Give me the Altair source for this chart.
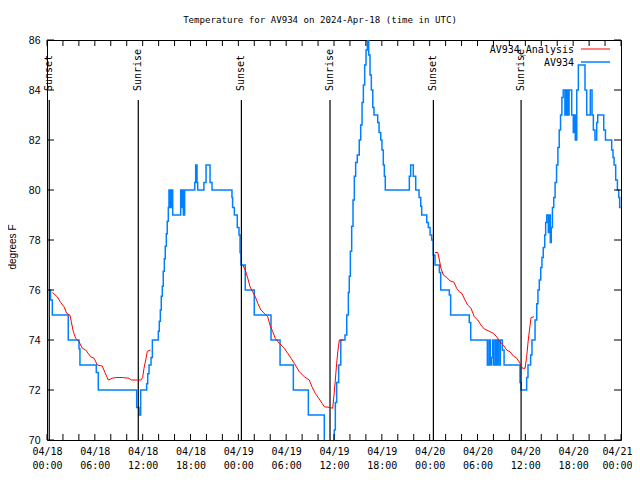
import altair as alt
import pandas as pd

# ---------------- data (UTC, 2024) ----------------
blue_time = [
    "04-18 00:17", "04-18 00:26", "04-18 00:40", "04-18 02:40", "04-18 04:01", "04-18 04:08",
    "04-18 06:11", "04-18 06:26", "04-18 11:15", "04-18 11:32", "04-18 11:45", "04-18 12:30",
    "04-18 12:38", "04-18 12:48", "04-18 13:03", "04-18 13:13", "04-18 13:58", "04-18 14:05",
    "04-18 14:13", "04-18 14:20", "04-18 14:28", "04-18 14:35", "04-18 14:43", "04-18 14:50",
    "04-18 14:58", "04-18 15:05", "04-18 15:13", "04-18 15:18", "04-18 15:26", "04-18 15:31",
    "04-18 15:36", "04-18 15:41", "04-18 15:46", "04-18 16:46", "04-18 16:54", "04-18 16:58",
    "04-18 17:06", "04-18 17:16", "04-18 18:32", "04-18 18:39", "04-18 18:49", "04-18 18:54",
    "04-18 19:41", "04-18 19:57", "04-18 20:27", "04-18 20:42", "04-18 23:12", "04-18 23:17",
    "04-18 23:30", "04-18 23:52", "04-19 00:05", "04-19 00:13", "04-19 00:20", "04-19 00:52",
    "04-19 02:00", "04-19 04:06", "04-19 05:14", "04-19 06:54", "04-19 08:47", "04-19 10:47",
    "04-19 12:02", "04-19 12:10", "04-19 12:20", "04-19 12:35", "04-19 12:51", "04-19 13:23",
    "04-19 13:36", "04-19 13:48", "04-19 13:55", "04-19 14:03", "04-19 14:13", "04-19 14:23",
    "04-19 14:33", "04-19 14:43", "04-19 14:55", "04-19 15:10", "04-19 15:21", "04-19 15:31",
    "04-19 15:41", "04-19 15:51", "04-19 16:01", "04-19 16:11", "04-19 16:21", "04-19 16:31",
    "04-19 16:41", "04-19 16:52", "04-19 17:01", "04-19 17:29", "04-19 17:39", "04-19 17:52",
    "04-19 18:01", "04-19 18:11", "04-19 18:19", "04-19 18:26", "04-19 21:27", "04-19 21:37",
    "04-19 21:57", "04-19 22:15", "04-19 22:40", "04-19 22:53", "04-19 23:00", "04-19 23:38",
    "04-19 23:50", "04-20 00:03", "04-20 00:15", "04-20 00:27", "04-20 00:40", "04-20 01:13",
    "04-20 01:23", "04-20 02:28", "04-20 02:38", "04-20 04:58", "04-20 05:09", "04-20 07:14",
    "04-20 07:26", "04-20 07:37", "04-20 07:47", "04-20 07:55", "04-20 08:02", "04-20 08:14",
    "04-20 08:22", "04-20 08:33", "04-20 08:40", "04-20 08:52", "04-20 09:07", "04-20 09:20",
    "04-20 11:20", "04-20 11:28", "04-20 12:10", "04-20 12:20", "04-20 12:40", "04-20 12:50",
    "04-20 13:13", "04-20 13:26", "04-20 13:35", "04-20 13:45", "04-20 13:56", "04-20 14:05",
    "04-20 14:15", "04-20 14:26", "04-20 14:33", "04-20 14:41", "04-20 14:53", "04-20 15:01",
    "04-20 15:08", "04-20 15:15", "04-20 15:24", "04-20 15:34", "04-20 15:44", "04-20 15:55",
    "04-20 16:05", "04-20 16:15", "04-20 16:25", "04-20 16:35", "04-20 16:45", "04-20 16:58",
    "04-20 17:08", "04-20 17:19", "04-20 17:29", "04-20 17:49", "04-20 18:01", "04-20 18:09",
    "04-20 18:16", "04-20 18:27", "04-20 18:39", "04-20 19:29", "04-20 19:42", "04-20 20:09",
    "04-20 20:22", "04-20 20:32", "04-20 20:44", "04-20 20:57", "04-20 21:05", "04-20 21:50",
    "04-20 22:03", "04-20 22:50", "04-20 23:00", "04-20 23:08", "04-20 23:20", "04-20 23:33",
    "04-20 23:43", "04-20 23:50", "04-20 23:58",
]
blue_temp = [
    76.0, 75.6, 75.0, 74.0, 73.65, 73.0,
    72.7, 72.0, 71.3, 71.0, 72.0, 72.25,
    72.65, 73.0, 73.3, 74.0, 74.35, 74.75,
    75.2, 75.75, 76.15, 76.75, 77.25, 77.75,
    78.25, 78.75, 79.3, 80.0, 79.3, 80.0,
    79.3, 80.0, 79.0, 80.0, 79.3, 80.0,
    79.0, 80.0, 80.3, 81.0, 80.3, 80.0,
    80.3, 81.0, 80.3, 80.0, 79.7, 79.3,
    79.0, 78.5, 78.2, 77.5, 77.0, 76.0,
    75.0, 74.0, 73.0, 72.0, 71.0, 69.5,
    70.4, 71.5, 72.3, 73.0, 74.0, 74.2,
    75.0, 75.9, 76.55, 77.55, 78.55, 79.6,
    80.55, 81.1, 81.4, 82.0, 82.6, 83.5,
    84.2, 85.0, 85.6, 86.3, 85.4, 84.6,
    84.0, 83.3, 83.0, 82.7, 82.3, 82.0,
    81.6, 81.0, 80.55, 80.0, 80.55, 81.0,
    80.55, 80.0, 79.7, 79.35, 79.0, 78.7,
    78.5, 78.2, 78.0, 77.4, 77.0, 76.7,
    76.0, 75.8, 75.0, 74.7, 74.0, 73.0,
    74.0, 73.0, 73.3, 74.0, 73.0, 74.0,
    73.0, 74.0, 73.0, 74.0, 73.6, 73.0,
    72.3, 72.0, 72.5, 73.0, 73.4, 74.0,
    74.8, 75.45, 76.0, 76.4, 76.9, 77.3,
    77.7, 78.2, 78.7, 79.0, 78.3, 79.0,
    77.9, 78.5, 79.3, 79.7, 80.3, 81.0,
    81.7, 82.4, 83.0, 83.7, 84.0, 83.0,
    84.0, 83.0, 84.0, 83.0, 82.3, 83.0,
    82.0, 84.0, 85.0, 84.0, 83.0, 84.0,
    83.0, 82.4, 82.0, 82.7, 83.0, 82.4,
    82.0, 81.6, 81.3, 81.0, 80.4, 80.0,
    79.7, 79.3, 79.3,
]

red_time = [
    "04-18 00:40", "04-18 01:17", "04-18 01:43", "04-18 02:08", "04-18 02:28", "04-18 02:53",
    "04-18 03:03", "04-18 03:18", "04-18 03:36", "04-18 04:01", "04-18 04:26", "04-18 04:51",
    "04-18 05:29", "04-18 05:54", "04-18 06:19", "04-18 06:56", "04-18 07:17", "04-18 07:41",
    "04-18 08:11", "04-18 08:37", "04-18 09:27", "04-18 10:17", "04-18 10:34", "04-18 11:47",
    "04-18 12:00", "04-18 12:10", "04-18 12:23", "04-18 12:35", "04-18 12:59",
    "04-19 00:33", "04-19 00:52", "04-19 01:11", "04-19 01:28", "04-19 01:48", "04-19 02:08",
    "04-19 02:26", "04-19 02:50", "04-19 03:16", "04-19 03:41", "04-19 03:58", "04-19 04:19",
    "04-19 04:38", "04-19 05:08", "04-19 05:46", "04-19 06:11", "04-19 06:37", "04-19 07:01",
    "04-19 07:39", "04-19 08:17", "04-19 08:54", "04-19 09:14", "04-19 09:39", "04-19 10:05",
    "04-19 10:30", "04-19 10:47", "04-19 11:32", "04-19 11:50", "04-19 12:00", "04-19 12:10",
    "04-19 12:20", "04-19 12:30", "04-19 12:40", "04-19 13:11",
    "04-20 00:40", "04-20 01:01", "04-20 01:13", "04-20 01:25", "04-20 01:43", "04-20 02:08",
    "04-20 02:33", "04-20 03:03", "04-20 03:23", "04-20 03:43", "04-20 04:01", "04-20 04:26",
    "04-20 04:46", "04-20 05:11", "04-20 05:36", "04-20 06:02", "04-20 06:26", "04-20 06:51",
    "04-20 07:21", "04-20 07:59", "04-20 08:24", "04-20 08:49", "04-20 09:14", "04-20 09:40",
    "04-20 10:05", "04-20 10:30", "04-20 10:55", "04-20 11:20", "04-20 11:38", "04-20 11:58",
    "04-20 12:10", "04-20 12:22", "04-20 12:43", "04-20 13:05",
]
red_temp = [
    75.9, 75.73, 75.5, 75.33, 75.07, 74.99,
    74.73, 74.33, 74.07, 73.93, 73.67, 73.6,
    73.33, 73.27, 73.0, 72.96, 72.69, 72.4,
    72.47, 72.5, 72.5, 72.47, 72.4, 72.4,
    72.5, 72.87, 73.2, 73.55, 73.6,
    77.0, 76.8, 76.47, 76.13, 75.93, 75.73,
    75.47, 75.2, 75.07, 74.93, 74.6, 74.33,
    74.07, 73.87, 73.67, 73.47, 73.27, 73.07,
    72.73, 72.53, 72.4, 72.13, 71.87, 71.67,
    71.47, 71.33, 71.3, 71.27, 71.8, 72.4,
    73.07, 73.6, 74.0, 74.0,
    77.5, 77.5, 77.2, 76.87, 76.6, 76.5,
    76.37, 76.31, 76.07, 75.93, 75.87, 75.6,
    75.4, 75.27, 74.93, 74.8, 74.6, 74.44,
    74.37, 74.27, 74.13, 73.93, 73.8, 73.6,
    73.53, 73.36, 73.27, 73.07, 72.87, 72.87,
    73.33, 74.0, 74.9, 74.93,
]
red_run = [1] * 29 + [2] * 34 + [3] * 34

event_time = ["04-18 00:17", "04-18 11:27", "04-19 00:23", "04-19 11:30", "04-20 00:28", "04-20 11:28"]
event_label = ["Sunset", "Sunrise", "Sunset", "Sunrise", "Sunset", "Sunrise"]

x_major_ticks = ["04-18 00:00", "04-18 06:00", "04-18 12:00", "04-18 18:00", "04-19 00:00",
                 "04-19 06:00", "04-19 12:00", "04-19 18:00", "04-20 00:00", "04-20 06:00",
                 "04-20 12:00", "04-20 18:00", "04-21 00:00"]
y_ticks = [70, 72, 74, 76, 78, 80, 82, 84, 86]

title_text = "Temperature for AV934 on 2024-Apr-18 (time in UTC)"
y_title = "degrees F"
legend_red = "AV934_Analysis"
legend_blue = "AV934"


def ts(lst):
    return pd.to_datetime(["2024-" + s for s in lst], format="%Y-%m-%d %H:%M", utc=True)


def ms(lst):
    return [int(t.value // 10**6) for t in ts(lst)]


blue_df = pd.DataFrame({"time": ts(blue_time), "temp": blue_temp})
red_df = pd.DataFrame({"time": ts(red_time), "temp": red_temp, "run": red_run})
event_df = pd.DataFrame({"time": ts(event_time), "label": event_label})
minor_df = pd.DataFrame({"time": pd.date_range("2024-04-18", "2024-04-21", freq="2h", tz="UTC")})
ytick_df = pd.DataFrame({"temp": y_ticks})
one = pd.DataFrame({"k": [0]})

W, H = 574, 400
MONO = "DejaVu Sans Mono"
SANS = "Liberation Sans"

major_ms = ms(x_major_ticks)
xscale = alt.Scale(type="utc", domain=[major_ms[0], major_ms[-1]])
yscale = alt.Scale(domain=[70, 86], nice=False, zero=False)

xaxis = alt.Axis(
    values=major_ms,
    labelExpr="[utcFormat(datum.value, '%m/%d'), utcFormat(datum.value, '%H:%M')]",
    ticks=False, domain=False, grid=False, labelPadding=6,
    labelFont=MONO, labelFontSize=10, labelColor="black", labelLineHeight=14,
    labelFlush=False, labelOverlap=False, title=None,
    labelOffset={"condition": {"test": "datum.value >= %d" % major_ms[-1], "value": -4}, "value": 0},
)
yaxis = alt.Axis(
    values=y_ticks, ticks=False, domain=False, grid=False, labelPadding=7,
    labelFont=SANS, labelFontSize=10.5, labelColor="black", title=None,
)


def X():
    return alt.X("time:T", scale=xscale, axis=xaxis)


def Y():
    return alt.Y("temp:Q", scale=yscale, axis=yaxis)


blue = alt.Chart(blue_df).mark_line(
    color="#0080ff", interpolate="step-after", strokeWidth=1.5, clip=True
).encode(x=X(), y=Y())

red = alt.Chart(red_df).mark_line(color="#ff0000", strokeWidth=1, clip=True).encode(
    x=X(), y=Y(), detail="run:N"
)

xt_bottom = alt.Chart(minor_df).mark_rule(color="black").encode(
    x=X(), y=alt.value(H), y2=alt.value(H - 6)
)
xt_top = alt.Chart(minor_df).mark_rule(color="black").encode(
    x=X(), y=alt.value(0), y2=alt.value(6)
)
yt_left = alt.Chart(ytick_df).mark_rule(color="black").encode(
    y=Y(), x=alt.value(0), x2=alt.value(7)
)
yt_right = alt.Chart(ytick_df).mark_rule(color="black").encode(
    y=Y(), x=alt.value(W), x2=alt.value(W - 7)
)

ev_lines = alt.Chart(event_df).mark_rule(color="black", strokeWidth=1.2).encode(
    x=X(), y=alt.value(60), y2=alt.value(H)
)
ev_text = alt.Chart(event_df).mark_text(
    angle=270, align="left", baseline="middle", font=MONO, fontSize=10, color="black", dx=1
).encode(x=X(), y=alt.value(52), text="label:N")

title = alt.Chart(one).mark_text(
    font=MONO, fontSize=9.1, color="black", align="center", baseline="middle"
).encode(x=alt.value(273), y=alt.value(-20.5), text=alt.value(title_text))

ytitle = alt.Chart(one).mark_text(
    font=SANS, fontSize=10, color="black", align="center", baseline="middle", angle=270
).encode(x=alt.value(-34), y=alt.value(207), text=alt.value(y_title))

leg_red_t = alt.Chart(one).mark_text(
    font=MONO, fontSize=10, color="black", align="right", baseline="middle"
).encode(x=alt.value(527), y=alt.value(10), text=alt.value(legend_red))
leg_red_l = alt.Chart(one).mark_rule(color="#ff0000", strokeWidth=1).encode(
    x=alt.value(534), x2=alt.value(563), y=alt.value(9)
)
leg_blue_t = alt.Chart(one).mark_text(
    font=MONO, fontSize=10, color="black", align="right", baseline="middle"
).encode(x=alt.value(527), y=alt.value(22.5), text=alt.value(legend_blue))
leg_blue_l = alt.Chart(one).mark_rule(color="#0080ff", strokeWidth=1.5).encode(
    x=alt.value(534), x2=alt.value(563), y=alt.value(22)
)

chart = alt.layer(
    blue, xt_bottom, xt_top, yt_left, yt_right, ev_lines, red, ev_text,
    title, ytitle, leg_red_t, leg_red_l, leg_blue_t, leg_blue_l,
).properties(
    width=W, height=H,
    autosize=alt.AutoSizeParams(type="none"),
    padding={"left": 39, "top": 32, "right": 11, "bottom": 32},
    background="white",
).configure_view(stroke="black", strokeWidth=1)

chart.save("out.html", embed_options={"renderer": "svg", "actions": False})
